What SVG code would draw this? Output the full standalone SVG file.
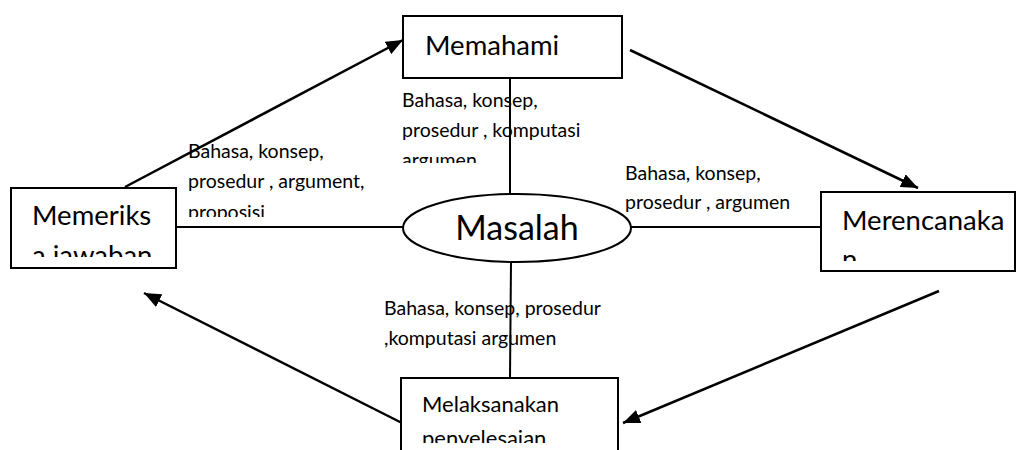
<svg xmlns="http://www.w3.org/2000/svg" width="1017" height="450" viewBox="0 0 1017 450">
  <style>
    .box { fill: #ffffff; stroke: #000000; stroke-width: 2; }
    .node { font-family: Lato, "Liberation Sans", sans-serif; font-size: 27.5px; fill: #000000; }
    .node-big { font-family: Lato, "Liberation Sans", sans-serif; font-size: 34px; fill: #000000; }
    .node-sm { font-family: Lato, "Liberation Sans", sans-serif; font-size: 22px; fill: #000000; }
    .lbl { font-family: Lato, "Liberation Sans", sans-serif; font-size: 19.5px; fill: #000000; }
    .edge { stroke: #000000; stroke-width: 2; fill: none; }
    .arrow { stroke: #000000; stroke-width: 2.5; fill: none; marker-end: url(#head); }
  </style>
  <defs>
    <marker id="head" markerUnits="userSpaceOnUse" markerWidth="18" markerHeight="14" refX="17" refY="7" orient="auto">
      <path d="M0,0 L17,7 L0,14 z" fill="#000000"/>
    </marker>
    <clipPath id="clip-memeriksa"><rect x="12" y="189" width="163" height="68"/></clipPath>
    <clipPath id="clip-merencanakan"><rect x="822" y="193" width="192" height="68"/></clipPath>
    <clipPath id="clip-melaksanakan"><rect x="402" y="379" width="215" height="64"/></clipPath>
    <clipPath id="clip-lbl-top"><rect x="395" y="85" width="230" height="78"/></clipPath>
    <clipPath id="clip-lbl-left"><rect x="180" y="135" width="220" height="82"/></clipPath>
  </defs>

  <rect width="1017" height="450" fill="#ffffff"/>

  <!-- text carried along the spokes -->
  <g id="labels">
    <g clip-path="url(#clip-lbl-top)">
      <text class="lbl" x="402" y="107">Bahasa, konsep,</text>
      <text class="lbl" x="402" y="137">prosedur , komputasi</text>
      <text class="lbl" x="402" y="167">argumen</text>
    </g>
    <g clip-path="url(#clip-lbl-left)">
      <text class="lbl" x="188" y="158">Bahasa, konsep,</text>
      <text class="lbl" x="188" y="188">prosedur , argument,</text>
      <text class="lbl" x="188" y="219">proposisi</text>
    </g>
    <text class="lbl" x="625" y="180">Bahasa, konsep,</text>
    <text class="lbl" x="625" y="209">prosedur , argumen</text>
    <text class="lbl" x="384" y="315">Bahasa, konsep, prosedur</text>
    <text class="lbl" x="384" y="345">,komputasi argumen</text>
  </g>

  <!-- spokes to the centre and the cycle arrows -->
  <g id="connectors">
    <line class="edge" x1="510" y1="78" x2="510" y2="194"/>
    <line class="edge" x1="175" y1="227" x2="403" y2="227"/>
    <line class="edge" x1="631" y1="227" x2="821" y2="227"/>
    <line class="edge" x1="511" y1="262" x2="510" y2="378"/>
    <line class="arrow" x1="125" y1="187" x2="403" y2="40"/>
    <line class="arrow" x1="630" y1="50" x2="918" y2="188"/>
    <line class="arrow" x1="939" y1="291" x2="623" y2="423"/>
    <line class="arrow" x1="402" y1="423" x2="144" y2="293"/>
  </g>

  <g id="node-memahami">
    <rect class="box" x="403" y="16" width="219" height="62"/>
    <text class="node" x="425" y="55">Memahami</text>
  </g>

  <g id="node-memeriksa">
    <rect class="box" x="11" y="188" width="165" height="80"/>
    <g clip-path="url(#clip-memeriksa)">
      <text class="node" x="32" y="225">Memeriks</text>
      <text class="node" x="32" y="265">a jawaban</text>
    </g>
  </g>

  <g id="node-masalah">
    <ellipse class="box" cx="517" cy="228" rx="114" ry="34"/>
    <text class="node-big" x="517" y="240" text-anchor="middle">Masalah</text>
  </g>

  <g id="node-merencanakan">
    <rect class="box" x="821" y="192" width="194" height="79"/>
    <g clip-path="url(#clip-merencanakan)">
      <text class="node" x="842" y="230">Merencanaka</text>
      <text class="node" x="842" y="269">n</text>
    </g>
  </g>

  <g id="node-melaksanakan">
    <rect class="box" x="401" y="378" width="217" height="90"/>
    <g clip-path="url(#clip-melaksanakan)">
      <text class="node-sm" x="422" y="412">Melaksanakan</text>
      <text class="node-sm" x="422" y="446">penyelesaian</text>
    </g>
  </g>
</svg>
